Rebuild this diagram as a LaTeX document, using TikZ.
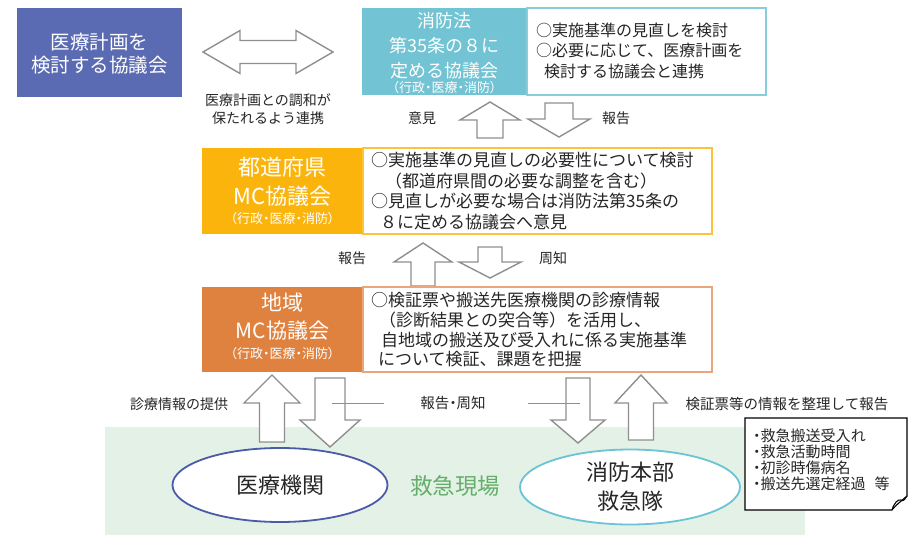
\documentclass[tikz,border=0pt]{standalone}
\usepackage{fontspec}
\setmainfont{Noto Sans CJK JP}
\newfontfamily\pfont[RawFeature=+palt]{Noto Sans CJK JP}
\usetikzlibrary{shapes.geometric}
\definecolor{blueC}{HTML}{5B6BB3}
\definecolor{tealC}{HTML}{72C3D3}
\definecolor{tealL}{HTML}{86CEDC}
\definecolor{yelC}{HTML}{FBB40C}
\definecolor{yelL}{HTML}{FDC43A}
\definecolor{oraC}{HTML}{E0823F}
\definecolor{oraL}{HTML}{EBA57C}
\definecolor{greenBG}{HTML}{E4F1E7}
\definecolor{greenT}{HTML}{63AE68}
\definecolor{ellA}{HTML}{4A5CA8}
\definecolor{ellB}{HTML}{6BC3D6}
\definecolor{arrowC}{HTML}{8F8F8F}
\definecolor{txtC}{HTML}{262626}
\newcommand\myfs[2]{\fontsize{#1pt}{#2pt}\selectfont}
\newcommand\upblk[6]{\draw[blkarrow] ({#1},{#2}) -- ({#1+#5},{#3}) -- ({#1+#6},{#3}) -- ({#1+#6},{#4}) -- ({#1-#6},{#4}) -- ({#1-#6},{#3}) -- ({#1-#5},{#3}) -- cycle;}
\newcommand\dnblk[6]{\draw[blkarrow] ({#1-#6},{#2}) -- ({#1+#6},{#2}) -- ({#1+#6},{#3}) -- ({#1+#5},{#3}) -- ({#1},{#4}) -- ({#1-#5},{#3}) -- ({#1-#6},{#3}) -- cycle;}
\begin{document}
\begin{tikzpicture}[x=1pt,y=-1pt,
  colbox/.style={inner sep=0pt, outer sep=0pt},
  coltext/.style={text=white, align=center, inner sep=0pt},
  smalltext/.style={text=white, align=center, inner sep=0pt, font=\pfont\myfs{13}{14}},
  wbox/.style={fill=white, line width=1.2pt, inner sep=0pt, outer sep=0pt},
  wtext/.style={text=txtC, align=left, inner sep=0pt, anchor=west},
  lbl/.style={text=txtC, font=\myfs{14}{18}, align=center, inner sep=0pt},
  blkarrow/.style={draw=arrowC, fill=white, line width=1.4pt, line join=miter},
  ell/.style={ellipse, fill=white, line width=1.8pt, inner sep=0pt, text=txtC}]
\useasboundingbox[fill=white] (0,0) rectangle (911,535);

% top-left box
\node[colbox, fill=blueC, minimum width=165pt, minimum height=89pt] (plan) at (99.5,52.5) {};
\node[coltext, font=\myfs{19.5}{23}] (planT) at (99.5,54) {医療計画を\\検討する協議会};

% double arrow
\draw[blkarrow] (203,52) -- (240,30.5) -- (240,40.5) -- (296,40.5) -- (296,30.5) -- (333,52) -- (296,73.5) -- (296,63.5) -- (240,63.5) -- (240,73.5) -- cycle;
\node[lbl] (coop) at (268,109) {医療計画との調和が\\保たれるよう連携};

% law council
\node[colbox, fill=tealC, minimum width=165pt, minimum height=87pt] (law) at (444.5,51.5) {};
\node[coltext, font=\myfs{18}{25}] (lawT) at (444.5,46) {消防法\\第35条の８に\\定める協議会};
\node[smalltext] (lawS) at (444.5,88) {（行政・医療・消防）};
\node[wbox, draw=tealL, minimum width=239pt, minimum height=87pt] (lawW) at (646.5,51.5) {};
\node[wtext, font=\myfs{16}{20.5}] (lawWT) at (536,50.5) {○実施基準の見直しを検討\\○必要に応じて、医療計画を\\\hspace*{8pt}検討する協議会と連携};

% arrows pair 1
\upblk{490}{102}{120}{138}{30}{13}
\dnblk{559}{103}{119}{137}{31}{14}
\node[lbl] (iken) at (422,118) {意見};
\node[lbl] (hokoku1) at (616,118) {報告};

% prefecture MC
\node[colbox, fill=yelC, minimum width=161pt, minimum height=86pt] (pref) at (282.5,191) {};
\node[coltext, font=\myfs{22}{29}] (prefT) at (282.5,182) {都道府県\\MC協議会};
\node[smalltext] (prefS) at (282.5,219) {（行政・医療・消防）};
\node[wbox, draw=yelL, minimum width=349pt, minimum height=86pt] (prefW) at (537.5,191) {};
\node[wtext, font=\myfs{17}{20.5}] (prefWT) at (371,191) {○実施基準の見直しの必要性について検討\\\hspace*{14pt}（都道府県間の必要な調整を含む）\\○見直しが必要な場合は消防法第35条の\\\hspace*{9pt}８に定める協議会へ意見};

% arrows pair 2
\upblk{423}{243}{262}{286}{29}{12}
\dnblk{490}{247}{262}{278}{31}{12}
\node[lbl] (hokoku2) at (352,258) {報告};
\node[lbl] (shuchi) at (553,258) {周知};

% regional MC
\node[colbox, fill=oraC, minimum width=161pt, minimum height=85pt] (reg) at (282.5,329.5) {};
\node[coltext, font=\myfs{21}{28}] (regT) at (282.5,317) {地域\\MC協議会};
\node[smalltext] (regS) at (282.5,354) {（行政・医療・消防）};
\node[wbox, draw=oraL, minimum width=349pt, minimum height=85pt] (regW) at (537.5,329.5) {};
\node[wtext, font=\myfs{17}{19.7}] (regWT) at (371,330) {○検証票や搬送先医療機関の診療情報\\\hspace*{8pt}（診断結果との突合等）を活用し、\\\hspace*{10pt}自地域の搬送及び受入れに係る実施基準\\\hspace*{7pt}について検証、課題を把握};

% scene area
\fill[greenBG] (105,427) rectangle (805,535);
\node[ell, draw=ellA, minimum width=215pt, minimum height=74pt, font=\myfs{22}{28}] (hosp) at (280,485) {医療機関};
\node[ell, draw=ellB, minimum width=220pt, minimum height=75pt, font=\myfs{22}{29}, align=center] (fire) at (630,487) {消防本部\\救急隊};
\node[text=greenT, font=\myfs{22.5}{27}, inner sep=0pt] (scene) at (455,486) {救急現場};

% bottom arrows
\upblk{272}{375}{403}{442}{28}{12.5}
\dnblk{330}{378}{420}{447}{30}{15}
\dnblk{578}{378}{420}{443}{27}{12}
\upblk{641}{375}{403}{440}{26}{12.5}
\node[lbl] (shinryo) at (179,404) {診療情報の提供};
\node[lbl, font=\pfont\myfs{14.5}{18}] (hs) at (453,403) {報告・周知};
\node[lbl, font=\myfs{14.5}{18}] (kensho) at (787,404) {検証票等の情報を整理して報告};
\coordinate (lineL) at (332,403);
\coordinate (lineLe) at (384,403);
\coordinate (lineRs) at (528,403);
\coordinate (lineR) at (580,403);
\draw[arrowC, line width=1pt] (lineL) -- (lineLe);
\draw[arrowC, line width=1pt] (lineRs) -- (lineR);

% note box
\draw[fill=white, line width=1.1pt] (745,418) -- (907,418) -- (907,496) .. controls (900,502) and (895,506) .. (892,510) -- (745,510) -- cycle;
\draw[line width=1.1pt] (892,510) .. controls (894,503) and (898,499) .. (901,500) .. controls (903,502) and (905,499) .. (907,496);
\node[wtext, font=\pfont\myfs{15}{16}] (note) at (753,460) {・救急搬送受入れ\\・救急活動時間\\・初診時傷病名\\・搬送先選定経過\hspace{9pt}等};
\end{tikzpicture}
\end{document}
